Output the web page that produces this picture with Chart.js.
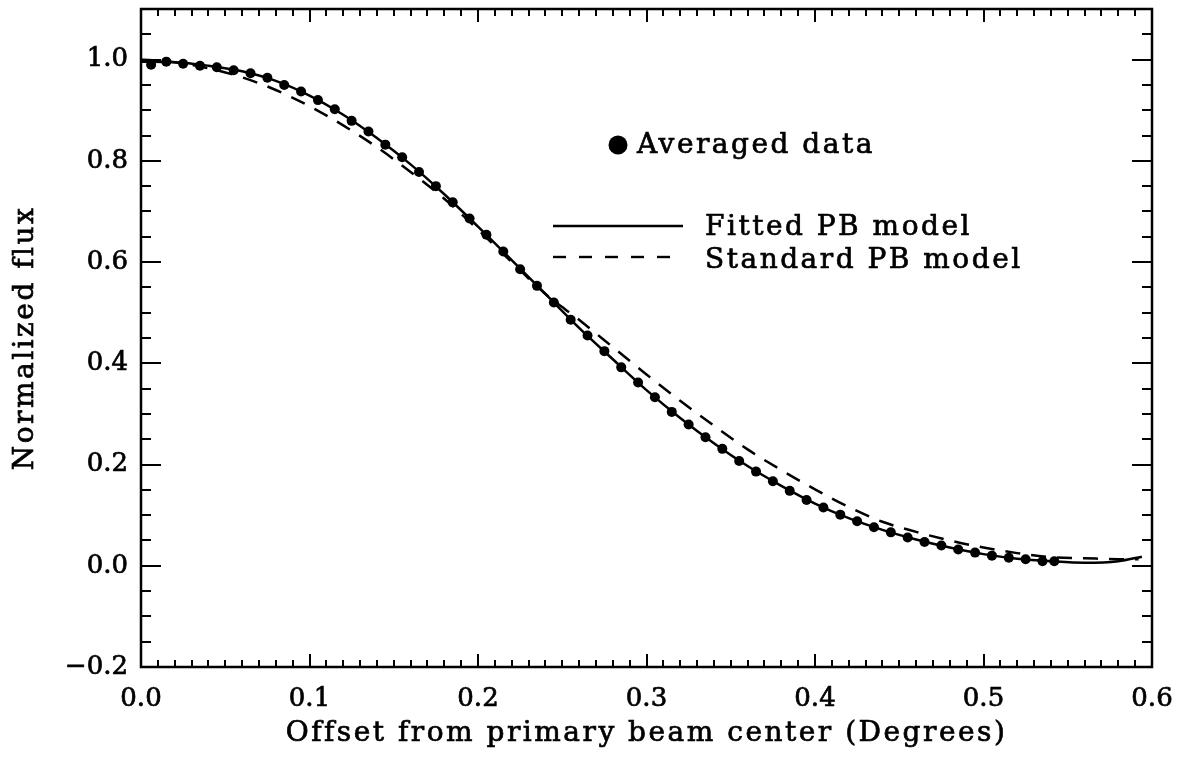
<!DOCTYPE html>
<html>
<head>
<meta charset="utf-8">
<script src="https://cdn.jsdelivr.net/npm/chart.js@4.4.1/dist/chart.umd.min.js"></script>
<style>
  html, body { margin: 0; padding: 0; background: #fff; }
  #wrap { width: 1188px; height: 761px; }
</style>
</head>
<body>
<div id="wrap"><canvas id="pbChart" width="1188" height="761"></canvas></div>
<script>
// averaged data (offset in degrees, normalized flux)
const avgX = [0.006, 0.015, 0.025, 0.035, 0.045, 0.055, 0.065, 0.075, 0.085, 0.095,
              0.105, 0.115, 0.125, 0.135, 0.145, 0.155, 0.165, 0.175, 0.185, 0.195,
              0.205, 0.215, 0.225, 0.235, 0.245, 0.255, 0.265, 0.275, 0.285, 0.295,
              0.305, 0.315, 0.325, 0.335, 0.345, 0.355, 0.365, 0.375, 0.385, 0.395,
              0.405, 0.415, 0.425, 0.435, 0.445, 0.455, 0.465, 0.475, 0.485, 0.495,
              0.505, 0.515, 0.525, 0.535, 0.542];
const avgY = [0.990, 0.996, 0.992, 0.988, 0.985, 0.979, 0.973, 0.964, 0.950, 0.937,
              0.920, 0.902, 0.879, 0.858, 0.832, 0.807, 0.778, 0.750, 0.718, 0.686,
              0.654, 0.621, 0.586, 0.553, 0.520, 0.486, 0.455, 0.424, 0.392, 0.362,
              0.333, 0.304, 0.279, 0.254, 0.231, 0.207, 0.186, 0.167, 0.148, 0.130,
              0.115, 0.101, 0.088, 0.076, 0.066, 0.056, 0.047, 0.040, 0.032, 0.026,
              0.020, 0.016, 0.013, 0.009, 0.009];

// fitted PB model
const fitX = [0, 0.02, 0.04, 0.06, 0.08, 0.10, 0.12, 0.14, 0.16, 0.18, 0.20,
              0.22, 0.24, 0.26, 0.28, 0.30, 0.32, 0.34, 0.36, 0.38, 0.40,
              0.42, 0.44, 0.46, 0.48, 0.50, 0.52, 0.54, 0.56, 0.58, 0.594];
const fitY = [0.996, 0.995, 0.988, 0.977, 0.958, 0.929, 0.891, 0.845, 0.793, 0.734, 0.670,
              0.604, 0.537, 0.470, 0.408, 0.347, 0.292, 0.242, 0.197, 0.158, 0.123,
              0.094, 0.071, 0.052, 0.036, 0.023, 0.014, 0.009, 0.006, 0.009, 0.018];

// standard PB model
const stdX = [0, 0.02, 0.04, 0.06, 0.08, 0.10, 0.12, 0.14, 0.16, 0.18, 0.20,
              0.22, 0.24, 0.26, 0.28, 0.30, 0.32, 0.34, 0.36, 0.38, 0.40,
              0.42, 0.44, 0.46, 0.48, 0.50, 0.52, 0.54, 0.56, 0.58, 0.592];
const stdY = [1.000, 0.995, 0.983, 0.965, 0.940, 0.908, 0.870, 0.827, 0.778, 0.725, 0.664,
              0.600, 0.537, 0.486, 0.432, 0.378, 0.326, 0.277, 0.230, 0.189, 0.151,
              0.116, 0.087, 0.067, 0.050, 0.036, 0.025, 0.017, 0.015, 0.013, 0.013];

const xTicks = [0, 0.1, 0.2, 0.3, 0.4, 0.5, 0.6];
const yTicks = [-0.2, 0, 0.2, 0.4, 0.6, 0.8, 1.0];

const xTitle = 'Offset from primary beam center (Degrees)';
const yTitle = 'Normalized flux';
const legendLabels = ['Averaged data', 'Fitted PB model', 'Standard PB model'];

const FONT = "'DejaVu Serif', 'Liberation Serif', serif";
const TEXT_FONT = '28px ' + FONT;
const SPACING = '2.5px';

function toPoints(xs, ys) {
    return xs.map((x, i) => ({ x: x, y: ys[i] }));
}

function noPad(s) {
    s.paddingTop = 0; s.paddingBottom = 0;
    s.paddingLeft = 0; s.paddingRight = 0;
}

// fill + thin outline, the original lettering is a bit heavier than the font
function heavyText(ctx, str, x, y) {
    ctx.fillText(str, x, y);
    ctx.strokeText(str, x, y);
}

// box with inward major/minor ticks on all four sides
const frameTicks = {
    id: 'frameTicks',
    afterDatasetsDraw(chart) {
        const { ctx, chartArea: a, scales: { x, y } } = chart;
        const hMajor = 13, hMinor = 7;   // ticks on x axes
        const vMajor = 20, vMinor = 10;  // ticks on y axes
        ctx.save();
        ctx.strokeStyle = '#000';
        ctx.lineWidth = 2;
        ctx.beginPath();
        for (let i = 0; i <= 60; i++) {
            const px = Math.round(x.getPixelForValue(i / 100));
            const len = (i % 10 === 0) ? hMajor : hMinor;
            ctx.moveTo(px, a.bottom); ctx.lineTo(px, a.bottom - len);
            ctx.moveTo(px, a.top); ctx.lineTo(px, a.top + len);
        }
        for (let j = -4; j <= 22; j++) {
            const py = Math.round(y.getPixelForValue(j / 20));
            const len = (j % 4 === 0) ? vMajor : vMinor;
            ctx.moveTo(a.left, py); ctx.lineTo(a.left + len, py);
            ctx.moveTo(a.right, py); ctx.lineTo(a.right - len, py);
        }
        ctx.stroke();
        ctx.lineWidth = 2.5;
        ctx.strokeRect(a.left, a.top, a.right - a.left, a.bottom - a.top);
        ctx.restore();
    }
};

// axis titles + the legend inside the plot, drawn like the original
const textLayer = {
    id: 'textLayer',
    afterDraw(chart) {
        const { ctx, chartArea: a } = chart;
        ctx.save();
        ctx.fillStyle = '#000';
        ctx.strokeStyle = '#000';
        ctx.lineWidth = 0.7;
        ctx.font = TEXT_FONT;
        ctx.letterSpacing = SPACING;
        ctx.textBaseline = 'alphabetic';

        // x title
        ctx.textAlign = 'center';
        heavyText(ctx, xTitle, (a.left + a.right) / 2, a.bottom + 74);

        // y title
        ctx.save();
        ctx.translate(33, (a.top + a.bottom) / 2);
        ctx.rotate(-Math.PI / 2);
        heavyText(ctx, yTitle, 0, 0);
        ctx.restore();

        // legend
        ctx.textAlign = 'left';
        const lx = a.left + 412, tx = a.left + 564;
        ctx.beginPath();
        ctx.arc(a.left + 477, a.top + 136, 9.5, 0, Math.PI * 2);
        ctx.fill();
        heavyText(ctx, legendLabels[0], a.left + 496, a.top + 144);
        heavyText(ctx, legendLabels[1], tx, a.top + 226);
        heavyText(ctx, legendLabels[2], tx, a.top + 259);

        ctx.lineWidth = 2.4;
        ctx.beginPath();
        ctx.moveTo(lx, a.top + 217); ctx.lineTo(lx + 130, a.top + 217);
        ctx.stroke();

        ctx.setLineDash([13, 13]);
        ctx.beginPath();
        ctx.moveTo(lx, a.top + 248); ctx.lineTo(lx + 130, a.top + 248);
        ctx.stroke();
        ctx.restore();
    }
};

new Chart(document.getElementById('pbChart'), {
    type: 'scatter',
    data: {
        datasets: [
            {
                label: legendLabels[0],
                data: toPoints(avgX, avgY),
                pointRadius: 5,
                pointBackgroundColor: '#000',
                pointBorderWidth: 0,
                showLine: false
            },
            {
                label: legendLabels[1],
                data: toPoints(fitX, fitY),
                showLine: true,
                pointRadius: 0,
                borderColor: '#000',
                borderWidth: 2.5,
                cubicInterpolationMode: 'monotone'
            },
            {
                label: legendLabels[2],
                data: toPoints(stdX, stdY),
                showLine: true,
                pointRadius: 0,
                borderColor: '#000',
                borderWidth: 2.5,
                borderDash: [15, 11],
                cubicInterpolationMode: 'monotone'
            }
        ]
    },
    options: {
        responsive: false,
        animation: false,
        layout: { padding: { top: 9, right: 36, left: 0, bottom: 0 } },
        plugins: {
            legend: { display: false },
            tooltip: { enabled: false }
        },
        scales: {
            x: {
                type: 'linear',
                min: 0,
                max: 0.6,
                afterBuildTicks: s => { s.ticks = xTicks.map(v => ({ value: v })); },
                afterFit: s => { s.height = 94; noPad(s); },
                grid: { display: false, drawTicks: false },
                border: { display: false },
                ticks: {
                    color: '#000',
                    padding: 17,
                    maxRotation: 0,
                    textStrokeColor: '#000',
                    textStrokeWidth: 0.7,
                    font: { family: FONT, size: 26 },
                    callback: v => v.toFixed(1)
                }
            },
            y: {
                type: 'linear',
                min: -0.2,
                max: 1.1,
                afterBuildTicks: s => { s.ticks = yTicks.map(v => ({ value: v })); },
                afterFit: s => { s.width = 141; noPad(s); },
                grid: { display: false, drawTicks: false },
                border: { display: false },
                ticks: {
                    color: '#000',
                    padding: 13,
                    textStrokeColor: '#000',
                    textStrokeWidth: 0.7,
                    font: { family: FONT, size: 26 },
                    callback: v => (v < 0 ? '\u2212' + Math.abs(v).toFixed(1) : v.toFixed(1))
                }
            }
        }
    },
    plugins: [frameTicks, textLayer]
});
</script>
</body>
</html>
